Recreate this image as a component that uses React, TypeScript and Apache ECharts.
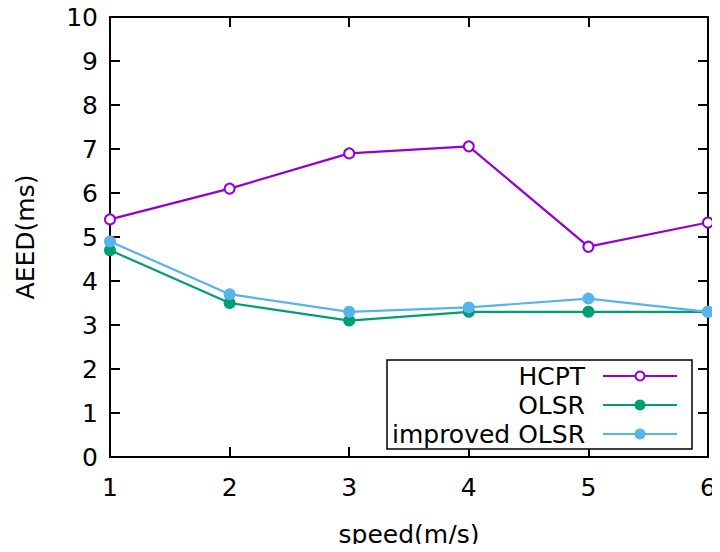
import React, { useEffect, useRef } from "react";
import * as echarts from "echarts";

const speeds = [1, 2, 3, 4, 5, 6];
const hcpt = [5.4, 6.1, 6.9, 7.06, 4.78, 5.33];
const olsr = [4.7, 3.5, 3.1, 3.3, 3.3, 3.3];
const improvedOlsr = [4.9, 3.7, 3.3, 3.4, 3.6, 3.3];
const seriesNames = ["HCPT", "OLSR", "improved OLSR"];
const colors = ["#9400d3", "#009e73", "#56b4e9"];

const FONT = "DejaVu Sans";
const FS = 25;

export default function App() {
  const ref = useRef<HTMLDivElement>(null);
  useEffect(() => {
    if (!ref.current) return;
    const chart = echarts.init(ref.current, null, { renderer: "svg" });
    const toPts = (arr: number[]) => speeds.map((s, i) => [s, arr[i]]);
    const axisCommon = {
      type: "value" as const,
      axisLine: { show: true, onZero: false, lineStyle: { color: "#000", width: 2 } },
      axisTick: { show: true, inside: true, length: 10, lineStyle: { color: "#000", width: 2 } },
      splitLine: { show: false },
    };
    const legendX = 387, legendY = 360;
    const rowY = [376, 405, 434];
    const legendGraphics: any[] = [
      {
        type: "rect",
        shape: { x: legendX, y: legendY, width: 305, height: 89 },
        style: { fill: "#fff", stroke: "#000", lineWidth: 1.5 },
        z: 100,
      },
    ];
    seriesNames.forEach((n, i) => {
      legendGraphics.push({
        type: "text",
        x: 585,
        y: rowY[i],
        style: { text: n, fill: "#000", font: `${FS}px "${FONT}"`, align: "right", verticalAlign: "middle" },
        z: 101,
      });
      legendGraphics.push({
        type: "line",
        shape: { x1: 603, y1: rowY[i], x2: 677, y2: rowY[i] },
        style: { stroke: colors[i], lineWidth: 2.2 },
        z: 101,
      });
      legendGraphics.push({
        type: "circle",
        shape: { cx: 640, cy: rowY[i], r: i === 0 ? 4.5 : 5.5 },
        style: i === 0 ? { fill: "#fff", stroke: colors[i], lineWidth: 2 } : { fill: colors[i] },
        z: 102,
      });
    });
    chart.setOption({
      animation: false,
      backgroundColor: "#fff",
      grid: { left: 110, right: 12, top: 17, bottom: 91, containLabel: false },
      xAxis: [
        {
          ...axisCommon,
          min: 1,
          max: 6,
          interval: 1,
          position: "bottom",
          name: "speed(m/s)",
          nameLocation: "middle",
          nameGap: 65,
          nameTextStyle: { fontFamily: FONT, fontSize: FS, color: "#000" },
          axisLabel: { fontFamily: FONT, fontSize: FS, color: "#000", margin: 18 },
        },
        {
          ...axisCommon,
          min: 1,
          max: 6,
          interval: 1,
          position: "top",
          axisLabel: { show: false },
        },
      ],
      yAxis: [
        {
          ...axisCommon,
          min: 0,
          max: 10,
          interval: 1,
          position: "left",
          name: "AEED(ms)",
          nameLocation: "middle",
          nameGap: 72,
          nameRotate: 90,
          nameTextStyle: { fontFamily: FONT, fontSize: FS, color: "#000" },
          axisLabel: { fontFamily: FONT, fontSize: FS, color: "#000", margin: 12 },
        },
        {
          ...axisCommon,
          min: 0,
          max: 10,
          interval: 1,
          position: "right",
          axisLabel: { show: false },
        },
      ],
      series: [
        {
          name: seriesNames[0],
          type: "line",
          data: toPts(hcpt),
          symbol: "emptyCircle",
          symbolSize: 10,
          lineStyle: { color: colors[0], width: 2.2 },
          itemStyle: { color: colors[0], borderColor: colors[0], borderWidth: 2 },
          z: 3,
        },
        {
          name: seriesNames[1],
          type: "line",
          data: toPts(olsr),
          symbol: "circle",
          symbolSize: 12,
          lineStyle: { color: colors[1], width: 2.2 },
          itemStyle: { color: colors[1] },
          z: 2,
        },
        {
          name: seriesNames[2],
          type: "line",
          data: toPts(improvedOlsr),
          symbol: "circle",
          symbolSize: 12,
          lineStyle: { color: colors[2], width: 2.2 },
          itemStyle: { color: colors[2] },
          z: 3,
        },
      ],
      graphic: legendGraphics,
    });
    return () => chart.dispose();
  }, []);
  return <div ref={ref} style={{ width: 720, height: 552, margin: -8 }} />;
}
